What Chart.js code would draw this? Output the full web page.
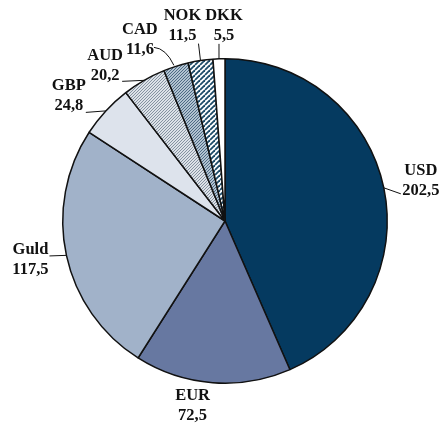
<!DOCTYPE html>
<html>
<head>
<meta charset="utf-8">
<script src="https://cdn.jsdelivr.net/npm/chart.js@4.4.0/dist/chart.umd.min.js"></script>
<style>
html,body{margin:0;padding:0;background:#fff;}
#wrap{width:442px;height:425px;position:relative;}
</style>
</head>
<body>
<div id="wrap"><canvas id="c" width="442" height="425"></canvas></div>
<script>
const categories = ['USD','EUR','Guld','GBP','AUD','CAD','NOK','DKK'];
const valueLabels = ['202,5','72,5','117,5','24,8','20,2','11,6','11,5','5,5'];
const values = [202.5, 72.5, 117.5, 24.8, 20.2, 11.6, 11.5, 5.5];

function makePattern(size, draw){
  const cv = document.createElement('canvas');
  cv.width = size; cv.height = size;
  const g = cv.getContext('2d');
  draw(g, size);
  return document.getElementById('c').getContext('2d').createPattern(cv, 'repeat');
}
const audPattern = makePattern(3, (g,s)=>{
  g.fillStyle = '#dde2e8'; g.fillRect(0,0,s,s);
  g.fillStyle = '#8593a1';
  g.fillRect(0,0,1,1); g.fillRect(2,1,1,1); g.fillRect(1,2,1,1);
});
const cadPattern = makePattern(3, (g,s)=>{
  g.fillStyle = '#b2c3d1'; g.fillRect(0,0,s,s);
  g.fillStyle = '#4d6a84';
  g.fillRect(0,0,1,1); g.fillRect(2,1,1,1); g.fillRect(1,2,1,1);
});
const nokPattern = makePattern(5, (g,s)=>{
  g.fillStyle = '#ffffff'; g.fillRect(0,0,s,s);
  g.strokeStyle = '#1d4b68'; g.lineWidth = 1.8;
  for (let k=-1;k<=1;k++){
    g.beginPath(); g.moveTo(k*s, s); g.lineTo(k*s + s, 0); g.stroke();
  }
});
const colors = ['#053a60','#6778a1','#a1b2c9','#dde3ec', audPattern, cadPattern, nokPattern, '#ffffff'];

// label layout relative to the slice's outer-edge midpoint: [dx, dy] of first text line, leader end [lx, ly] or null
const labelLayout = [
  {t:[37,-17], l:[17,6]},
  {t:[-20,13], l:null},
  {t:[-36,-6], l:[-17,0.6]},
  {t:[-37,-25], l:[-20,1.5]},
  {t:[-39,-25], l:[-22,1], },
  {t:[-36,-37], l:[-22,-19], curve:true},
  {t:[-18,-45], l:[-2,-17]},
  {t:[5,-43], l:[0,-15]}
];

const labelPlugin = {
  id:'labels',
  afterDatasetsDraw(chart){
    const ctx = chart.ctx;
    const meta = chart.getDatasetMeta(0);
    ctx.save();
    ctx.font = 'bold 16.5px "Liberation Serif", "Times New Roman", serif';
    ctx.fillStyle = '#111';
    ctx.strokeStyle = '#111';
    ctx.lineWidth = 1;
    ctx.textAlign = 'center';
    ctx.textBaseline = 'middle';
    meta.data.forEach((arc, i)=>{
      const p = arc.getProps(['x','y','startAngle','endAngle','outerRadius'], true);
      const mid = (p.startAngle + p.endAngle)/2;
      const ex = p.x + Math.cos(mid)*p.outerRadius;
      const ey = p.y + Math.sin(mid)*p.outerRadius;
      const L = labelLayout[i];
      const tx = ex + L.t[0], ty = ey + L.t[1];
      ctx.fillText(categories[i], tx, ty);
      ctx.fillText(valueLabels[i], tx, ty + 20);
      if (L.l){
        ctx.beginPath();
        ctx.moveTo(ex + L.l[0], ey + L.l[1]);
        if (L.curve){
          ctx.quadraticCurveTo(ex - 10, ey - 18, ex - 2, ey - 1);
        } else {
          ctx.lineTo(ex, ey);
        }
        ctx.stroke();
      }
    });
    ctx.restore();
  }
};

new Chart(document.getElementById('c'), {
  type:'pie',
  data:{
    labels: categories,
    datasets:[{
      data: values,
      backgroundColor: colors,
      borderColor:'#111',
      borderWidth:1.5,
      borderAlign:'center'
    }]
  },
  options:{
    responsive:false,
    animation:false,
    devicePixelRatio:1,
    layout:{padding:{top:58,bottom:41,left:62,right:54}},
    plugins:{legend:{display:false}, tooltip:{enabled:false}}
  },
  plugins:[labelPlugin]
});
</script>
</body>
</html>
